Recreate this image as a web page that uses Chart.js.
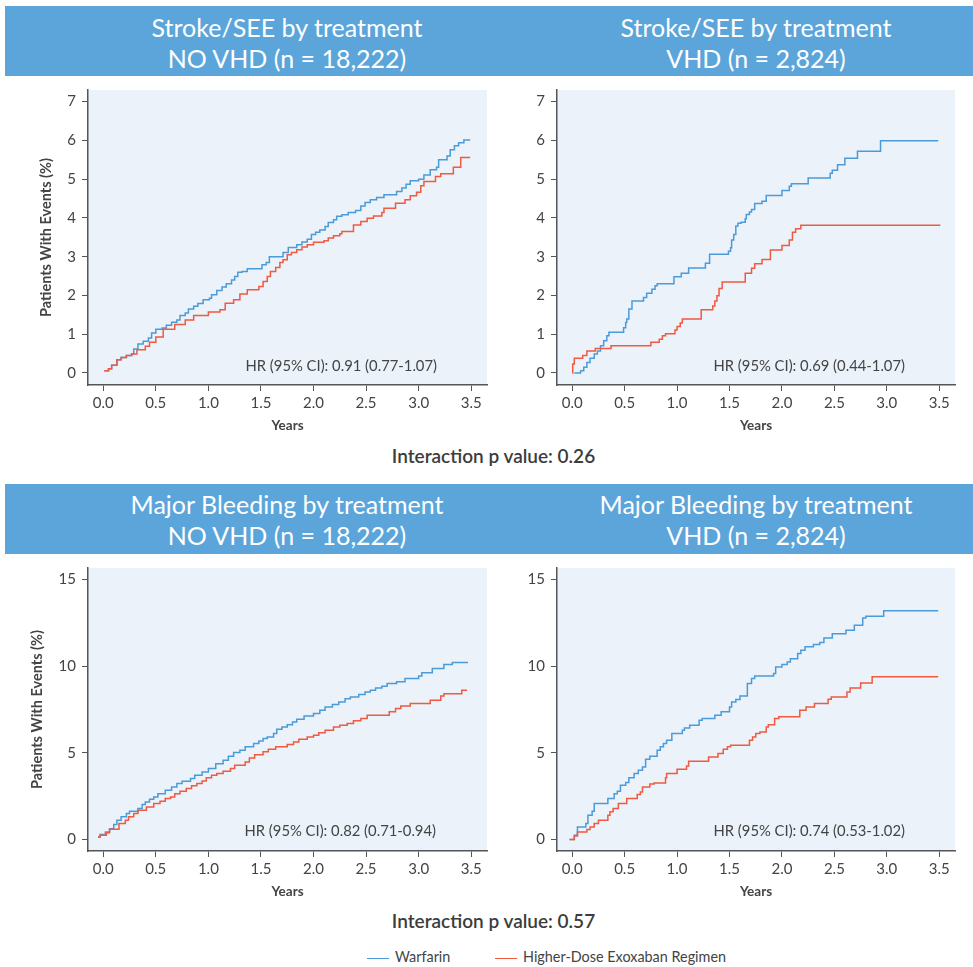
<!DOCTYPE html>
<html>
<head>
<meta charset="utf-8">
<script src="https://cdn.jsdelivr.net/npm/chart.js@4.4.1/dist/chart.umd.min.js"></script>
<style>
    body { margin: 0; width: 973px; height: 967px; position: relative; background: #fff; overflow: hidden;
           font-family: Lato, "Noto Sans", sans-serif; color: #444; }
    .band { position: absolute; left: 5px; right: 0; height: 70px; background: #5ba5da; }
    .head { position: absolute; width: 470px; text-align: center; color: #fff; font-size: 25px; line-height: 31px; }
    canvas { position: absolute; }
    .hr { position: absolute; font-size: 14.8px; white-space: nowrap; transform: translate(-100%, -50%); }
    .pval { position: absolute; left: 0; width: 987px; text-align: center; font-size: 19px; font-weight: 600;
            color: #3c3c3c; transform: translateY(-50%); }
    .legend { position: absolute; top: 948px; font-size: 14.4px; white-space: nowrap; }
    .legend i { display: inline-block; width: 22px; height: 0; border-top: 1.5px solid; vertical-align: middle; margin-right: 6px; }
</style>
</head>
<body>

<div class="band" style="top:6px"></div>
<div class="head" style="left:52px; top:12px">Stroke/SEE by treatment<br>NO VHD (n = 18,222)</div>
<div class="head" style="left:521px; top:12px">Stroke/SEE by treatment<br>VHD (n = 2,824)</div>

<canvas id="stroke-novhd" width="490" height="360" style="left:0; top:80px"></canvas>
<canvas id="stroke-vhd" width="483" height="360" style="left:490px; top:80px"></canvas>
<div class="hr" style="left:437px; top:365px">HR (95% CI): 0.91 (0.77-1.07)</div>
<div class="hr" style="left:905px; top:365px">HR (95% CI): 0.69 (0.44-1.07)</div>
<div class="pval" style="top:455px">Interaction p value: 0.26</div>

<div class="band" style="top:484px"></div>
<div class="head" style="left:52px; top:489px">Major Bleeding by treatment<br>NO VHD (n = 18,222)</div>
<div class="head" style="left:521px; top:489px">Major Bleeding by treatment<br>VHD (n = 2,824)</div>

<canvas id="bleed-novhd" width="490" height="350" style="left:0; top:555px"></canvas>
<canvas id="bleed-vhd" width="483" height="350" style="left:490px; top:555px"></canvas>
<div class="hr" style="left:436px; top:830px">HR (95% CI): 0.82 (0.71-0.94)</div>
<div class="hr" style="left:905px; top:830px">HR (95% CI): 0.74 (0.53-1.02)</div>
<div class="pval" style="top:920px">Interaction p value: 0.57</div>

<div class="legend" style="left:367px"><i style="border-color:#4b9bd8"></i>Warfarin</div>
<div class="legend" style="left:495px"><i style="border-color:#ef5a40"></i>Higher-Dose Exoxaban Regimen</div>

<script>
// Kaplan-Meier style cumulative event curves, [years, % with events]
const xTicks = [0, 0.5, 1.0, 1.5, 2.0, 2.5, 3.0, 3.5];
const strokeTicks = [0, 1, 2, 3, 4, 5, 6, 7];
const bleedTicks = [0, 5, 10, 15];

const strokeNoVhdWarfarin = [
    [0.01,0.06],[0.05,0.11],[0.08,0.2],[0.13,0.34],[0.17,0.4],[0.22,0.45],[0.27,0.49],[0.29,0.62],[0.33,0.75],
    [0.38,0.82],[0.43,0.9],[0.46,1.03],[0.5,1.13],[0.56,1.16],[0.6,1.23],[0.65,1.31],[0.7,1.37],[0.73,1.48],
    [0.78,1.55],[0.81,1.65],[0.86,1.72],[0.9,1.79],[0.95,1.89],[1.01,1.93],[1.03,2.02],[1.08,2.13],[1.13,2.22],
    [1.17,2.3],[1.22,2.4],[1.25,2.49],[1.28,2.6],[1.32,2.62],[1.37,2.69],[1.51,2.79],[1.55,2.85],[1.58,3.0],
    [1.71,3.11],[1.76,3.24],[1.84,3.31],[1.89,3.38],[1.94,3.45],[1.98,3.57],[2.02,3.63],[2.06,3.69],[2.11,3.78],
    [2.14,3.88],[2.19,3.95],[2.22,4.04],[2.27,4.08],[2.33,4.14],[2.4,4.19],[2.45,4.31],[2.49,4.4],[2.54,4.47],
    [2.6,4.53],[2.67,4.6],[2.79,4.68],[2.84,4.77],[2.88,4.87],[2.92,4.96],[3.0,5.0],[3.05,5.11],[3.11,5.24],
    [3.17,5.31],[3.19,5.5],[3.27,5.6],[3.3,5.76],[3.34,5.86],[3.38,5.94],[3.43,6.01],[3.49,6.01]
];
const strokeNoVhdEdoxaban = [
    [0.01,0.06],[0.05,0.11],[0.08,0.2],[0.13,0.34],[0.17,0.4],[0.22,0.45],[0.27,0.49],[0.32,0.6],[0.4,0.69],
    [0.44,0.79],[0.5,0.93],[0.57,1.13],[0.68,1.25],[0.78,1.37],[0.86,1.48],[1.0,1.57],[1.11,1.63],[1.16,1.8],
    [1.24,1.89],[1.3,2.04],[1.37,2.15],[1.48,2.23],[1.52,2.36],[1.56,2.49],[1.59,2.62],[1.64,2.72],[1.68,2.85],
    [1.71,2.92],[1.75,3.05],[1.79,3.11],[1.84,3.18],[1.89,3.25],[1.94,3.31],[2.0,3.37],[2.1,3.41],[2.14,3.48],
    [2.19,3.54],[2.25,3.59],[2.27,3.65],[2.38,3.82],[2.45,3.91],[2.51,3.99],[2.57,4.05],[2.65,4.14],[2.67,4.25],
    [2.78,4.38],[2.87,4.47],[2.92,4.57],[2.98,4.66],[3.02,4.83],[3.05,4.94],[3.16,5.07],[3.21,5.14],[3.33,5.31],
    [3.4,5.56],[3.49,5.56]
];
const strokeVhdWarfarin = [
    [0.02,0],[0.08,0.06],[0.11,0.15],[0.14,0.27],[0.17,0.38],[0.21,0.49],[0.24,0.57],[0.27,0.7],[0.3,0.83],
    [0.33,0.96],[0.35,1.05],[0.49,1.17],[0.51,1.3],[0.52,1.39],[0.54,1.65],[0.57,1.86],[0.68,1.95],[0.71,2.06],
    [0.76,2.16],[0.79,2.25],[0.81,2.3],[0.97,2.48],[1.04,2.57],[1.11,2.71],[1.27,2.83],[1.31,3.06],[1.49,3.14],
    [1.51,3.23],[1.52,3.43],[1.54,3.57],[1.56,3.79],[1.58,3.86],[1.61,3.89],[1.65,3.98],[1.66,4.09],[1.69,4.15],
    [1.71,4.22],[1.74,4.37],[1.81,4.43],[1.85,4.58],[2.0,4.71],[2.07,4.82],[2.09,4.88],[2.25,5.03],[2.46,5.15],
    [2.48,5.23],[2.53,5.37],[2.6,5.54],[2.72,5.72],[2.94,5.99],[3.49,5.99]
];
const strokeVhdEdoxaban = [
    [0.0,0],[0.005,0.23],[0.02,0.38],[0.1,0.45],[0.14,0.57],[0.22,0.63],[0.37,0.7],[0.75,0.79],[0.83,0.87],
    [0.86,0.96],[0.89,1.01],[0.98,1.11],[1.0,1.2],[1.03,1.29],[1.05,1.39],[1.23,1.63],[1.34,1.73],[1.36,1.86],
    [1.38,1.99],[1.4,2.18],[1.43,2.35],[1.65,2.57],[1.71,2.7],[1.74,2.82],[1.81,2.93],[1.89,3.17],[2.0,3.29],
    [2.07,3.43],[2.1,3.63],[2.13,3.72],[2.18,3.81],[3.51,3.81]
];
const bleedNoVhdWarfarin = [
    [-0.05,0.15],[-0.03,0.29],[0.02,0.44],[0.06,0.63],[0.1,0.87],[0.13,1.12],[0.17,1.31],[0.22,1.5],[0.25,1.63],
    [0.33,1.79],[0.37,2.02],[0.4,2.17],[0.44,2.33],[0.48,2.46],[0.52,2.65],[0.59,2.85],[0.65,3.04],[0.7,3.23],
    [0.75,3.37],[0.83,3.52],[0.87,3.71],[0.94,3.9],[1.0,4.1],[1.07,4.38],[1.14,4.58],[1.19,4.81],[1.24,5.02],
    [1.3,5.15],[1.35,5.35],[1.43,5.54],[1.48,5.69],[1.52,5.83],[1.56,5.92],[1.62,6.12],[1.65,6.37],[1.7,6.5],
    [1.75,6.63],[1.8,6.79],[1.84,6.94],[1.91,7.13],[2.0,7.27],[2.06,7.46],[2.11,7.65],[2.18,7.79],[2.24,7.94],
    [2.3,8.13],[2.35,8.23],[2.43,8.37],[2.49,8.52],[2.54,8.62],[2.59,8.75],[2.65,8.85],[2.7,9.0],[2.79,9.1],
    [2.87,9.29],[3.0,9.44],[3.03,9.63],[3.13,9.87],[3.24,10.1],[3.32,10.21],[3.47,10.21]
];
const bleedNoVhdEdoxaban = [
    [-0.05,0.15],[-0.03,0.25],[0.03,0.4],[0.06,0.6],[0.15,0.92],[0.21,1.12],[0.24,1.31],[0.29,1.5],[0.33,1.69],
    [0.41,1.88],[0.48,2.08],[0.54,2.21],[0.59,2.37],[0.64,2.46],[0.68,2.65],[0.73,2.79],[0.79,2.94],[0.84,3.1],
    [0.89,3.23],[0.94,3.38],[0.98,3.56],[1.03,3.71],[1.08,3.81],[1.14,3.94],[1.21,4.1],[1.25,4.29],[1.35,4.48],
    [1.39,4.71],[1.44,4.9],[1.52,5.06],[1.57,5.21],[1.64,5.35],[1.75,5.48],[1.81,5.63],[1.86,5.79],[1.94,5.92],
    [2.0,6.02],[2.05,6.17],[2.11,6.31],[2.19,6.5],[2.25,6.6],[2.32,6.69],[2.38,6.85],[2.45,6.98],[2.51,7.17],
    [2.72,7.37],[2.78,7.56],[2.83,7.71],[2.92,7.85],[3.11,8.04],[3.21,8.29],[3.24,8.42],[3.41,8.62],[3.46,8.62]
];
const bleedVhdWarfarin = [
    [-0.025,0],[0.02,0.25],[0.05,0.73],[0.13,0.92],[0.15,1.4],[0.19,1.63],[0.21,2.08],[0.34,2.37],[0.4,2.65],
    [0.43,2.79],[0.46,3.13],[0.51,3.29],[0.54,3.56],[0.59,3.81],[0.63,4.0],[0.67,4.19],[0.7,4.63],[0.74,4.81],
    [0.81,5.15],[0.84,5.35],[0.87,5.54],[0.9,5.73],[0.95,6.12],[1.05,6.31],[1.07,6.44],[1.12,6.6],[1.21,6.88],
    [1.24,6.98],[1.36,7.17],[1.42,7.37],[1.5,7.65],[1.52,7.94],[1.56,8.08],[1.6,8.29],[1.67,9.0],[1.71,9.29],
    [1.74,9.44],[1.92,9.58],[1.94,9.96],[2.0,10.1],[2.05,10.25],[2.08,10.44],[2.15,10.73],[2.18,10.92],[2.22,11.12],
    [2.3,11.25],[2.36,11.37],[2.4,11.63],[2.48,11.88],[2.61,12.08],[2.69,12.37],[2.77,12.79],[2.8,12.88],
    [2.97,13.21],[3.49,13.21]
];
const bleedVhdEdoxaban = [
    [-0.025,0],[0.02,0.21],[0.05,0.44],[0.14,0.58],[0.17,0.73],[0.21,0.92],[0.25,1.12],[0.34,1.4],[0.36,1.6],
    [0.39,1.79],[0.44,2.08],[0.52,2.37],[0.62,2.6],[0.65,2.75],[0.67,3.04],[0.74,3.21],[0.78,3.27],[0.89,3.56],
    [0.9,3.81],[1.0,4.06],[1.09,4.25],[1.11,4.52],[1.3,4.77],[1.39,4.96],[1.44,5.21],[1.48,5.35],[1.51,5.44],
    [1.69,5.73],[1.72,5.92],[1.75,6.12],[1.79,6.21],[1.85,6.5],[1.87,6.63],[1.93,6.98],[1.97,7.08],[2.17,7.46],
    [2.23,7.65],[2.31,7.85],[2.44,8.1],[2.47,8.23],[2.62,8.52],[2.65,8.75],[2.75,9.04],[2.86,9.4],[3.49,9.4]
];

const BLUE = '#4b9bd8';
const RED = '#ef5a40';
const TEXT = '#444';
const AXIS = '#555';
const PLOT_BG = '#ebf2fa';

Chart.defaults.font.family = 'Lato, "Noto Sans", sans-serif';

// fill the plot area before anything else is drawn
const plotBackground = {
    id: 'plotBackground',
    beforeDraw(chart) {
        const { ctx, chartArea: a } = chart;
        ctx.save();
        ctx.fillStyle = PLOT_BG;
        ctx.fillRect(a.left, a.top, a.width, a.height);
        ctx.restore();
    }
};

const KMPanels = {
    panels: [
        { id: 'stroke-novhd', warfarin: strokeNoVhdWarfarin, edoxaban: strokeNoVhdEdoxaban, yTicks: strokeTicks,
          yMin: -0.31, yMax: 7.3, yWidth: 88, yTitle: true, yTitlePad: 38, padTop: 10, padRight: 3, xHeight: 55, xTitlePad: 6 },
        { id: 'stroke-vhd', warfarin: strokeVhdWarfarin, edoxaban: strokeVhdEdoxaban, yTicks: strokeTicks,
          yMin: -0.31, yMax: 7.3, yWidth: 67, yTitle: false, padTop: 10, padRight: 18, xHeight: 55, xTitlePad: 6 },
        { id: 'bleed-novhd', warfarin: bleedNoVhdWarfarin, edoxaban: bleedNoVhdEdoxaban, yTicks: bleedTicks,
          yMin: -0.66, yMax: 15.67, yWidth: 88, yTitle: true, yTitlePad: 29, padTop: 13, padRight: 3, xHeight: 54, xTitlePad: 5 },
        { id: 'bleed-vhd', warfarin: bleedVhdWarfarin, edoxaban: bleedVhdEdoxaban, yTicks: bleedTicks,
          yMin: -0.66, yMax: 15.67, yWidth: 67, yTitle: false, padTop: 13, padRight: 18, xHeight: 54, xTitlePad: 5 }
    ],

    init() {
        this.panels.forEach(p => this.render(p));
    },

    toPoints(rows) {
        return rows.map(r => ({ x: r[0], y: r[1] }));
    },

    render(p) {
        const ctx = document.getElementById(p.id).getContext('2d');
        new Chart(ctx, {
            type: 'line',
            data: {
                datasets: [
                    { label: 'Higher-Dose Exoxaban Regimen', data: this.toPoints(p.edoxaban), borderColor: RED },
                    { label: 'Warfarin', data: this.toPoints(p.warfarin), borderColor: BLUE }
                ]
            },
            options: {
                responsive: false,
                animation: false,
                layout: { padding: { top: p.padTop, right: p.padRight, left: 0, bottom: 0 } },
                elements: {
                    point: { radius: 0 },
                    line: { borderWidth: 1.5, stepped: 'before', fill: false }
                },
                plugins: {
                    legend: { display: false },
                    tooltip: { enabled: false }
                },
                scales: {
                    x: {
                        type: 'linear',
                        min: -0.145,
                        max: 3.65,
                        afterBuildTicks: s => { s.ticks = xTicks.map(v => ({ value: v })); },
                        afterFit: s => { s.height = p.xHeight; },
                        ticks: { callback: v => v.toFixed(1), color: TEXT, font: { size: 15 }, padding: 3, maxRotation: 0, autoSkip: false },
                        grid: { drawOnChartArea: false, tickLength: 6, tickColor: AXIS, tickWidth: 1 },
                        border: { color: AXIS, width: 1.5 },
                        title: { display: true, text: 'Years', color: TEXT, font: { size: 13.5, weight: 'bold' },
                                 padding: { top: 0, bottom: p.xTitlePad } }
                    },
                    y: {
                        min: p.yMin,
                        max: p.yMax,
                        afterBuildTicks: s => { s.ticks = p.yTicks.map(v => ({ value: v })); },
                        // fixed width; top/bottom label overhang already fits inside the layout padding
                        afterFit: s => { s.width = p.yWidth; s.paddingTop = 0; s.paddingBottom = 0; },
                        ticks: { color: TEXT, font: { size: 15 }, padding: 6 },
                        grid: { drawOnChartArea: false, tickLength: 6, tickColor: AXIS, tickWidth: 1 },
                        border: { color: AXIS, width: 1.5 },
                        title: { display: p.yTitle, text: 'Patients With Events (%)', color: TEXT,
                                 font: { size: 14.5, weight: 'bold' }, padding: { top: p.yTitlePad || 0, bottom: 0 } }
                    }
                }
            },
            plugins: [plotBackground]
        });
    }
};

KMPanels.init();
</script>
</body>
</html>
